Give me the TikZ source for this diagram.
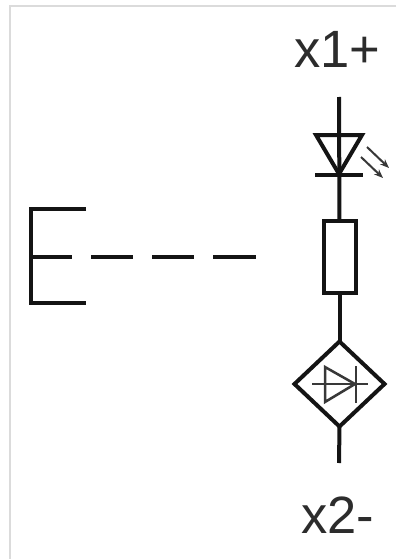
\documentclass[tikz,border=0pt]{standalone}
\usepackage{fontspec}
\setmainfont{Liberation Sans}
\usetikzlibrary{arrows.meta,shapes.geometric}
\definecolor{ink}{gray}{0.08}
\tikzset{
  sym/.style={draw=ink,line width=4pt,line join=miter},
  wire/.style={draw=ink,line width=4pt},
  inner sym/.style={draw=ink!85,line width=2.5pt},
  lab/.style={font=\fontsize{52.5}{54}\selectfont,text=ink!90,inner sep=0pt},
  ray/.style={draw=ink!85,line width=2pt,-{Stealth[length=9pt,width=7pt]}},
  frame/.style={draw=black!14,line width=2pt},
  heavy/.style={draw=ink,line width=4.6pt}
}
\begin{document}
\begin{tikzpicture}[x=1pt,y=-1pt]
\useasboundingbox (0,0) rectangle (396,559);
\fill[white] (0,0) rectangle (396,559);
\draw[frame] (396,6) -- (9.5,6) -- (9.5,559);
\node[lab,anchor=base] (top) at (337.5,68) {x1+};
\node[lab,anchor=base] (bot) at (338,533) {x2-};
% free wire ends
\coordinate (wtop) at (339,97);
\coordinate (wbot) at (339,463);
% LED
\coordinate (ledL) at (316,135);
\coordinate (ledR) at (362,135);
\coordinate (ledA) at (339,174);
\coordinate (barL) at (315,175);
\coordinate (barR) at (363,175);
\draw[sym] (ledL) -- (ledR) -- (ledA) -- cycle;
\draw[sym] (barL) -- (barR);
\coordinate (r1a) at (367,147);
\coordinate (r1b) at (389,168);
\coordinate (r2a) at (361,157);
\coordinate (r2b) at (383,178);
\draw[ray] (r1a) -- (r1b);
\draw[ray] (r2a) -- (r2b);
% resistor
\node[sym,rectangle,inner sep=0pt,outer sep=0pt,minimum width=32pt,minimum height=72pt] (res) at (339.5,256.5) {};
% diamond
\node[sym,diamond,inner sep=0pt,outer sep=0pt,minimum width=90pt,minimum height=85pt] (dia) at (339.5,384) {};
\draw[wire] (wtop) -- (res.north);
\draw[wire] (res.south) -- (dia.north);
\draw[wire] (dia.south) -- (wbot);
% inner photodiode
\coordinate (pL) at (312,384);
\coordinate (pR) at (368,384);
\coordinate (tT) at (325,367);
\coordinate (tB) at (325,402);
\coordinate (tA) at (355,384);
\coordinate (cT) at (356,366);
\coordinate (cB) at (356,403);
\draw[inner sym] (pL) -- (pR);
\draw[inner sym] (tT) -- (tA) -- (tB) -- cycle;
\draw[inner sym] (cT) -- (cB);
% E-shaped bracket and dashed link
\coordinate (eT) at (86,209);
\coordinate (eTL) at (31,209);
\coordinate (eBL) at (31,303);
\coordinate (eB) at (86,303);
\coordinate (eM) at (31,257);
\coordinate (eMr) at (72,257);
\draw[heavy,line cap=butt] (eT) -- (eTL) -- (eBL) -- (eB);
\draw[heavy] (eM) -- (eMr);
\coordinate (d1a) at (91,257);
\coordinate (d1b) at (133,257);
\coordinate (d2a) at (152,257);
\coordinate (d2b) at (194,257);
\coordinate (d3a) at (213,257);
\coordinate (d3b) at (256,257);
\draw[heavy] (d1a) -- (d1b);
\draw[heavy] (d2a) -- (d2b);
\draw[heavy] (d3a) -- (d3b);
\end{tikzpicture}
\end{document}
